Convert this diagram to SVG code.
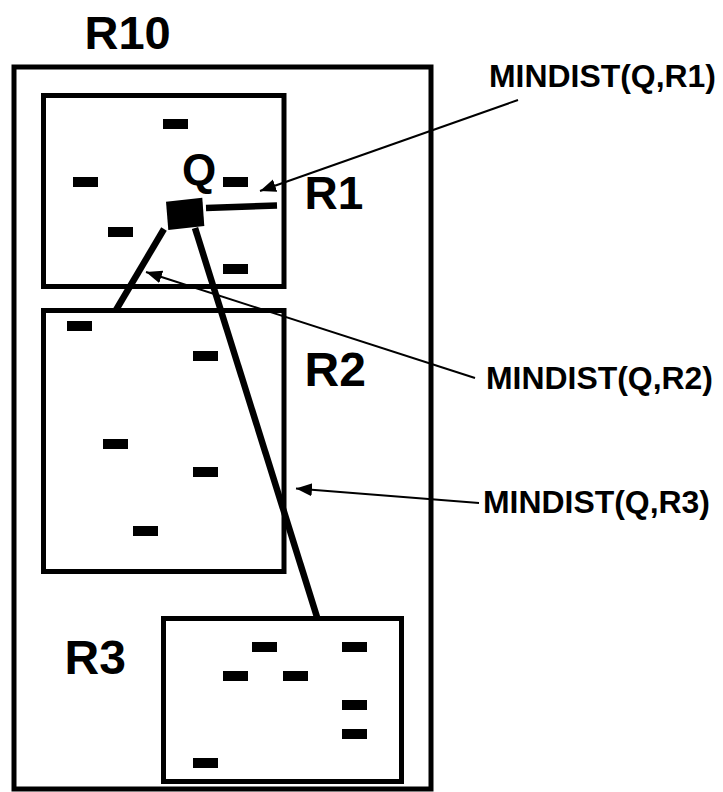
<svg xmlns="http://www.w3.org/2000/svg" width="723" height="792" viewBox="0 0 723 792">
  <defs>
    <style>
      .box { fill: none; stroke: #000; stroke-width: 5; }
      .pt { fill: #000; }
      .big { font-family: "Liberation Sans", Arial, sans-serif; font-weight: bold; fill: #000; }
      .lbl { font-family: "Liberation Sans", Arial, sans-serif; font-weight: bold; font-size: 31px; fill: #000; }
      .thick { stroke: #000; stroke-width: 6.5; fill: none; }
      .thin { stroke: #000; stroke-width: 2; fill: none; }
    </style>
    <marker id="arrow" markerUnits="userSpaceOnUse" markerWidth="18" markerHeight="14" refX="16" refY="6.5" orient="auto">
      <path d="M0,0 L16,6.5 L0,13 Z" fill="#000"/>
    </marker>
  </defs>
  <rect width="723" height="792" fill="#fff"/>

  <g id="R10">
    <rect class="box" x="14" y="67" width="417" height="722"/>
    <text class="big" x="84.5" y="49" font-size="47">R10</text>
  </g>

  <g id="R1">
    <rect class="box" x="43.5" y="95.5" width="240.5" height="191"/>
    <rect class="pt" x="163" y="119" width="25" height="10"/>
    <rect class="pt" x="73" y="177" width="25" height="10"/>
    <rect class="pt" x="223" y="177" width="25" height="10"/>
    <rect class="pt" x="108" y="227" width="25" height="10"/>
    <rect class="pt" x="223" y="264" width="25" height="10"/>
    <text class="big" x="304.5" y="209" font-size="46">R1</text>
  </g>

  <g id="R2">
    <rect class="box" x="43.5" y="310.5" width="240.5" height="261"/>
    <rect class="pt" x="67" y="321" width="25" height="10"/>
    <rect class="pt" x="193" y="351" width="25" height="10"/>
    <rect class="pt" x="103" y="439" width="25" height="10"/>
    <rect class="pt" x="193" y="467" width="25" height="10"/>
    <rect class="pt" x="133" y="526" width="25" height="10"/>
    <text class="big" x="304.5" y="386" font-size="48">R2</text>
  </g>

  <g id="R3">
    <rect class="box" x="163.5" y="618.5" width="238" height="163"/>
    <rect class="pt" x="252" y="642" width="25" height="10"/>
    <rect class="pt" x="342" y="642" width="25" height="10"/>
    <rect class="pt" x="223" y="671" width="25" height="10"/>
    <rect class="pt" x="283" y="671" width="25" height="10"/>
    <rect class="pt" x="342" y="700" width="25" height="10"/>
    <rect class="pt" x="342" y="729" width="25" height="10"/>
    <rect class="pt" x="193" y="758" width="25" height="10"/>
    <text class="big" x="64.5" y="674" font-size="48">R3</text>
  </g>

  <g id="Q">
    <polygon points="166,201.7 202.3,197.7 204.3,226 168.3,230" fill="#000"/>
    <text class="big" x="182" y="185" font-size="44">Q</text>
  </g>

  <g id="connectors">
    <line class="thick" x1="206" y1="208" x2="277" y2="205.5"/>
    <line class="thick" x1="164" y1="229" x2="116" y2="310"/>
    <line class="thick" x1="195" y1="228" x2="317" y2="617"/>
    <line class="thin" x1="518" y1="100" x2="260" y2="191" marker-end="url(#arrow)"/>
    <line class="thin" x1="475" y1="378" x2="146" y2="272" marker-end="url(#arrow)"/>
    <line class="thin" x1="479" y1="503" x2="296" y2="488.5" marker-end="url(#arrow)"/>
  </g>

  <g id="labels">
    <text class="lbl" x="489" y="87" textLength="227" lengthAdjust="spacingAndGlyphs">MINDIST(Q,R1)</text>
    <text class="lbl" x="486" y="389" textLength="227" lengthAdjust="spacingAndGlyphs">MINDIST(Q,R2)</text>
    <text class="lbl" x="483" y="513" textLength="227" lengthAdjust="spacingAndGlyphs">MINDIST(Q,R3)</text>
  </g>
</svg>
